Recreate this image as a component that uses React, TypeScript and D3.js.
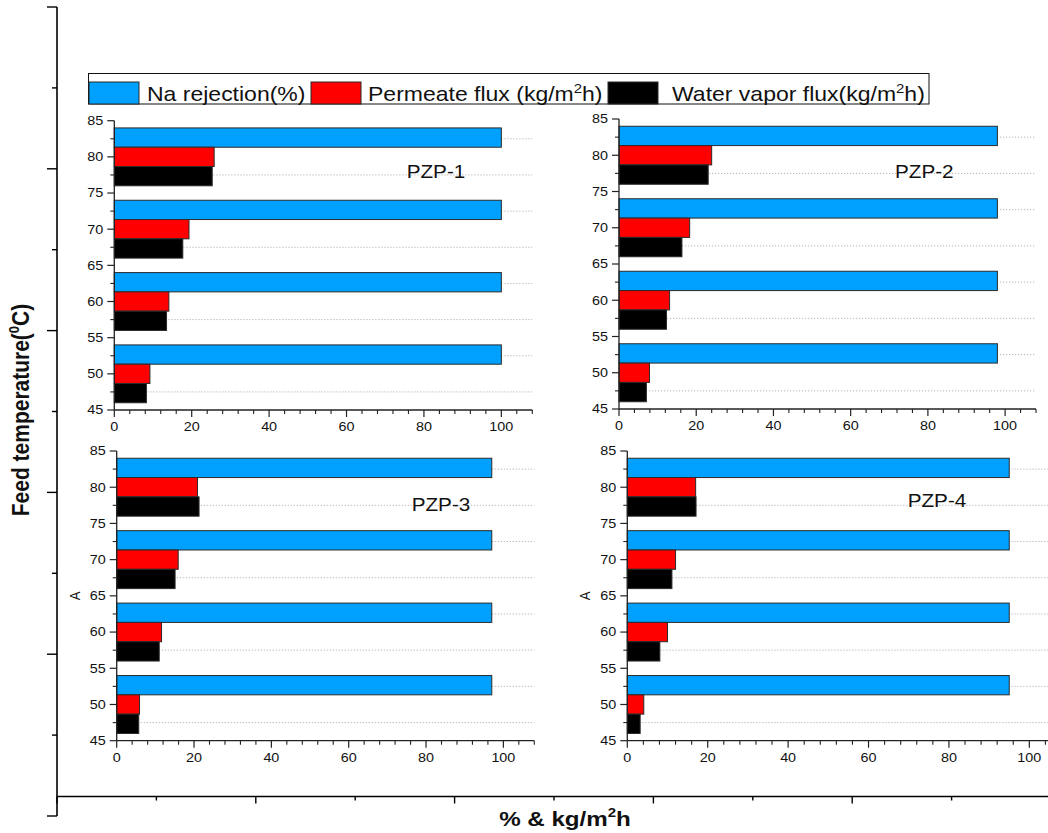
import React from "react";
import * as d3 from "d3";

// Feed temperatures (°C) — one bar group per temperature
const temps = [50, 60, 70, 80];
const membranes = ["PZP-1", "PZP-2", "PZP-3", "PZP-4"];

// Na rejection (%) per membrane, by temperature
const naRejection = [
  [100, 100, 100, 100],
  [98, 98, 98, 98],
  [97, 97, 97, 97],
  [95, 95, 95, 95],
];
// Permeate flux (kg/m²h)
const permeateFlux = [
  [9.2, 14.1, 19.3, 25.8],
  [7.9, 13.1, 18.3, 24.0],
  [5.9, 11.6, 15.9, 20.9],
  [4.1, 10.0, 12.0, 17.0],
];
// Water vapor flux (kg/m²h)
const vaporFlux = [
  [8.3, 13.5, 17.7, 25.3],
  [7.1, 12.3, 16.3, 23.1],
  [5.7, 11.0, 15.1, 21.3],
  [3.2, 8.1, 11.1, 17.1],
];

const yTickValues = [45, 50, 55, 60, 65, 70, 75, 80, 85];
const xTickValues = [0, 20, 40, 60, 80, 100];
const seriesColors = ["#00a0ff", "#ff0000", "#000000"];

// Panel placement on the page
const panels = [
  { left: 114.3, right: 532.3, top: 120.7, bottom: 410, label: [406.7, 178], axisTitle: false },
  { left: 619, right: 1036, top: 119, bottom: 409, label: [895, 177.7], axisTitle: false },
  { left: 116.7, right: 534.3, top: 451, bottom: 740.7, label: [411.7, 511], axisTitle: true },
  { left: 627.3, right: 1061.5, top: 451, bottom: 740.7, label: [907.7, 506.7], axisTitle: true },
];

const FONT = "'Liberation Sans', Arial, Helvetica, sans-serif";
const SX = 1.15; // horizontal text stretch

function Txt({ x, y, size, anchor = "start", weight = "normal", rot = false, dy, children, fill = "#111" }: any) {
  return (
    <text
      transform={`translate(${x},${y}) scale(${SX},1)${rot ? " rotate(-90)" : ""}`}
      fontSize={size}
      fontFamily={FONT}
      fontWeight={weight}
      textAnchor={anchor}
      dy={dy}
      fill={fill}
    >
      {children}
    </text>
  );
}

function Panel({ idx }: { idx: number }) {
  const p = panels[idx];
  const x = d3.scaleLinear().domain([0, 108]).range([p.left, p.right]);
  const y = d3.scaleLinear().domain([45, 85]).range([p.bottom, p.top]);
  const groupH = 8;
  const barH = groupH / 3;
  const series = [naRejection[idx], permeateFlux[idx], vaporFlux[idx]];
  const gridValues = d3.range(47.5, 85, 5);
  const xMinor = d3.range(0, 109, 4).filter((v) => v % 20 !== 0);
  const yMinor = d3.range(47.5, 85, 5);
  const axisColor = "#222";

  return (
    <g>
      {gridValues.map((g) => (
        <line
          key={"g" + g}
          x1={x(0)}
          x2={x(108)}
          y1={y(g)}
          y2={y(g)}
          stroke="#b4b4b4"
          strokeWidth={1}
          strokeDasharray="1.2,1.8"
        />
      ))}
      {temps.map((t, ti) =>
        series.map((vals, si) => {
          const top = t + groupH / 2 - si * barH;
          const bot = top - barH;
          return (
            <rect
              key={`b${ti}-${si}`}
              x={x(0)}
              y={y(top)}
              width={x(vals[ti]) - x(0)}
              height={y(bot) - y(top)}
              fill={seriesColors[si]}
              stroke="#2b2b2b"
              strokeWidth={1}
            />
          );
        })
      )}
      {/* y axis */}
      <line x1={x(0)} x2={x(0)} y1={y(85)} y2={y(45)} stroke={axisColor} strokeWidth={1.3} />
      {yTickValues.map((v) => (
        <g key={"yt" + v}>
          <line x1={x(0) - 7} x2={x(0)} y1={y(v)} y2={y(v)} stroke={axisColor} strokeWidth={1.2} />
          <Txt x={x(0) - 11} y={y(v)} size={12.5} anchor="end" dy="0.35em">
            {v}
          </Txt>
        </g>
      ))}
      {yMinor.map((v) => (
        <line key={"ym" + v} x1={x(0) - 4} x2={x(0)} y1={y(v)} y2={y(v)} stroke={axisColor} strokeWidth={1.1} />
      ))}
      {/* x axis */}
      <line x1={x(0)} x2={x(108)} y1={y(45)} y2={y(45)} stroke={axisColor} strokeWidth={1.3} />
      {xTickValues.map((v) => (
        <g key={"xt" + v}>
          <line x1={x(v)} x2={x(v)} y1={y(45)} y2={y(45) + 7} stroke={axisColor} strokeWidth={1.2} />
          <Txt x={x(v)} y={y(45) + 21} size={12.5} anchor="middle">
            {v}
          </Txt>
        </g>
      ))}
      {xMinor.map((v) => (
        <line key={"xm" + v} x1={x(v)} x2={x(v)} y1={y(45)} y2={y(45) + 4} stroke={axisColor} strokeWidth={1.1} />
      ))}
      {p.axisTitle && (
        <Txt x={x(0) - 37} y={y(65)} size={13} anchor="middle" rot>
          A
        </Txt>
      )}
      <Txt x={p.label[0]} y={p.label[1]} size={18}>
        {membranes[idx]}
      </Txt>
    </g>
  );
}

function Legend() {
  const top = 73.5;
  const bottom = 104;
  const swatches = [
    { x: 89, label: ["Na rejection(%)"], tx: 147 },
    { x: 311, label: ["Permeate flux (kg/m", "h)"], tx: 368 },
    { x: 608, label: ["Water vapor flux(kg/m", "h)"], tx: 672 },
  ];
  return (
    <g>
      <rect x={88.5} y={top} width={840.5} height={bottom - top} fill="#fff" stroke="#111" strokeWidth={1} />
      {swatches.map((s, i) => (
        <g key={i}>
          <rect x={s.x} y={82} width={50} height={bottom - 82} fill={seriesColors[i]} stroke="#2b2b2b" strokeWidth={1} />
          <text
            transform={`translate(${s.tx},${101}) scale(${SX},1)`}
            fontSize={20}
            fontFamily={FONT}
            fill="#111"
          >
            {s.label[0]}
            {s.label.length > 1 && (
              <>
                <tspan fontSize={13} dy={-8}>
                  2
                </tspan>
                <tspan dy={8}>{s.label[1]}</tspan>
              </>
            )}
          </text>
        </g>
      ))}
    </g>
  );
}

function OuterAxes() {
  // frame axes surrounding the four panels (unlabelled)
  const vy = d3.scaleLinear().domain([0, 10]).range([816, 7]);
  const hx = d3.scaleLinear().domain([0, 10]).range([57, 1051]);
  const ticks = d3.range(0, 11);
  return (
    <g stroke="#000">
      <line x1={57} x2={57} y1={vy(10)} y2={vy(0)} strokeWidth={1.6} />
      {ticks.map((k) => (
        <line key={"v" + k} x1={57 - (k % 2 === 0 ? 10 : 5)} x2={57} y1={vy(k)} y2={vy(k)} strokeWidth={1.4} />
      ))}
      <line x1={57} x2={1048} y1={796.5} y2={796.5} strokeWidth={1.6} />
      {ticks.map((k) => (
        <line key={"h" + k} x1={hx(k)} x2={hx(k)} y1={796.5} y2={796.5 + (k % 2 === 0 ? 7 : 4)} strokeWidth={1.4} />
      ))}
    </g>
  );
}

export default function App() {
  return (
    <svg
      width={1048}
      height={833}
      viewBox="0 0 1048 833"
      style={{ position: "absolute", left: 0, top: 0, background: "#fff" }}
    >
      <rect x={0} y={0} width={1048} height={833} fill="#fff" />
      <OuterAxes />
      {panels.map((_, i) => (
        <Panel key={i} idx={i} />
      ))}
      <Legend />
      {/* outer axis titles */}
      <text
        transform={`translate(${29},${410}) scale(${SX},1) rotate(-90)`}
        fontSize={21}
        fontWeight="bold"
        fontFamily={FONT}
        textAnchor="middle"
        fill="#111"
      >
        Feed temperature(
        <tspan fontSize={13} dy={-9}>
          0
        </tspan>
        <tspan dy={9}>C)</tspan>
      </text>
      <text
        transform={`translate(${565},${826}) scale(${SX},1)`}
        fontSize={21}
        fontWeight="bold"
        fontFamily={FONT}
        textAnchor="middle"
        fill="#111"
      >
        % &amp; kg/m
        <tspan fontSize={13} dy={-9}>
          2
        </tspan>
        <tspan dy={9}>h</tspan>
      </text>
    </svg>
  );
}
